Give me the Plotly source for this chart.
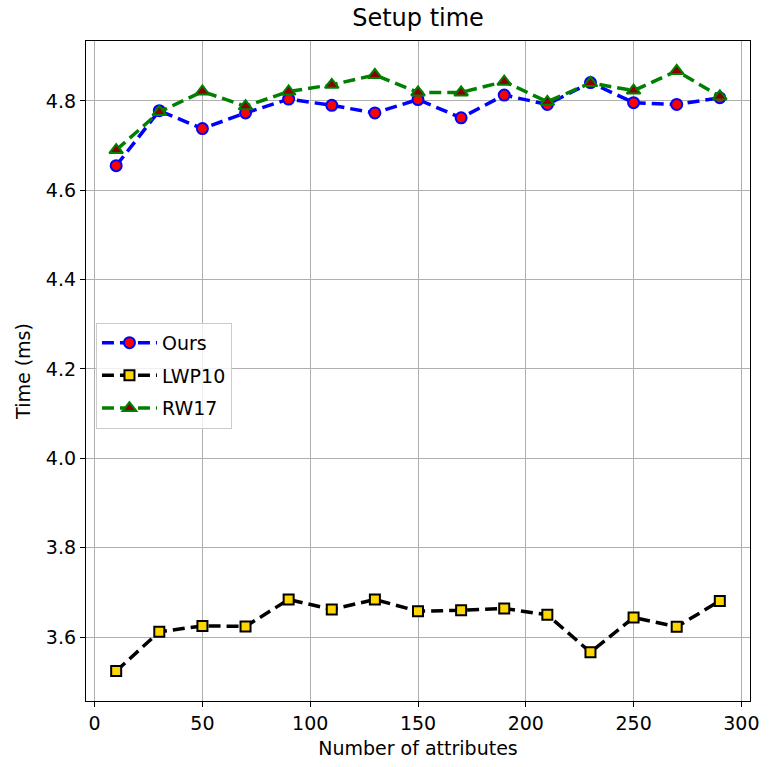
import plotly.graph_objects as go

attrs = [10, 30, 50, 70, 90, 110, 130, 150, 170, 190, 210, 230, 250, 270, 290]
ours = [4.655, 4.778, 4.738, 4.773, 4.804, 4.790, 4.773, 4.803, 4.762, 4.813, 4.792, 4.841, 4.796, 4.792, 4.807]
lwp10 = [3.524, 3.612, 3.625, 3.624, 3.684, 3.662, 3.684, 3.658, 3.660, 3.664, 3.650, 3.566, 3.644, 3.623, 3.681]
rw17 = [4.690, 4.775, 4.821, 4.788, 4.821, 4.836, 4.858, 4.819, 4.819, 4.843, 4.798, 4.840, 4.823, 4.867, 4.810]

x_ticks = [0, 50, 100, 150, 200, 250, 300]
y_ticks = [3.6, 3.8, 4.0, 4.2, 4.4, 4.6, 4.8]

FONT = "DejaVu Sans"
DASH = "12px,6px"

fig = go.Figure()
fig.add_trace(go.Scatter(
    x=attrs, y=ours, name="Ours", mode="lines+markers", legendgroup="a",
    line=dict(color="blue", width=3.5, dash=DASH),
    marker=dict(symbol="circle", size=11, color="red", line=dict(color="blue", width=2)),
))
fig.add_trace(go.Scatter(
    x=attrs, y=lwp10, name="LWP10", mode="lines+markers", legendgroup="b",
    line=dict(color="black", width=3.5, dash=DASH),
    marker=dict(symbol="square", size=10, color="gold", line=dict(color="black", width=2)),
))
fig.add_trace(go.Scatter(
    x=attrs, y=rw17, name="RW17", mode="lines+markers", legendgroup="c",
    line=dict(color="green", width=3.5, dash=DASH),
    marker=dict(symbol="triangle-up", size=12, color="darkred", line=dict(color="green", width=2)),
))

axis_common = dict(
    showline=True, linecolor="black", linewidth=1.3, mirror=True,
    ticks="outside", ticklen=5, tickcolor="black", tickwidth=1.2,
    showgrid=True, gridcolor="#b0b0b0", gridwidth=1, zeroline=False,
    tickfont=dict(family=FONT, size=19, color="black"),
)

fig.update_layout(
    width=771, height=767,
    margin=dict(l=86, r=13, t=41, b=61),
    paper_bgcolor="white", plot_bgcolor="white",
    font=dict(family=FONT, color="black"),
    title=dict(text="Setup time", xref="paper", x=0.5, xanchor="center", y=0.977, yanchor="middle",
               font=dict(family=FONT, size=24, color="black")),
    xaxis=dict(range=[-4, 304], tickvals=x_ticks,
               title=dict(text="Number of attributes", font=dict(family=FONT, size=19), standoff=8),
               **axis_common),
    yaxis=dict(range=[3.457, 4.934], tickvals=y_ticks, tickformat=".1f",
               title=dict(text="Time (ms)", font=dict(family=FONT, size=19), standoff=10),
               **axis_common),
    legend=dict(x=0.015, y=0.573, xanchor="left", yanchor="top",
                bgcolor="rgba(255,255,255,0.8)", bordercolor="#cccccc", borderwidth=1,
                font=dict(family=FONT, size=19), tracegroupgap=5, itemwidth=55),
    showlegend=True,
)

fig.write_html("out.html")
